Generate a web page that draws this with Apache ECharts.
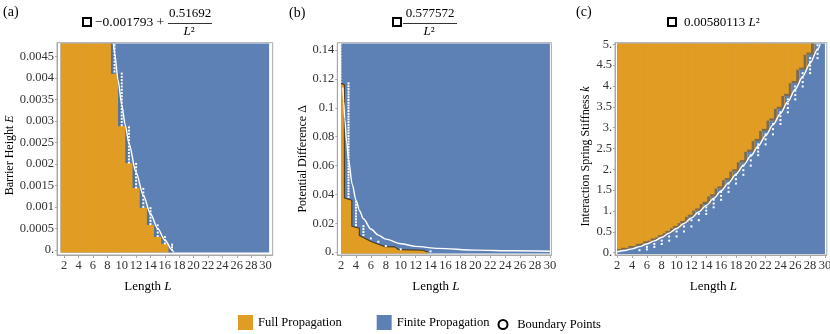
<!DOCTYPE html>
<html>
<head>
<meta charset="utf-8">
<script src="https://cdn.jsdelivr.net/npm/echarts@6/dist/echarts.min.js"></script>
<style>
html, body { margin: 0; padding: 0; background: #fff; }
#main { width: 830px; height: 334px; }
</style>
</head>
<body>
<div id="main"></div>
<script>
// ---------- data ----------
var xTicks = [2, 4, 6, 8, 10, 12, 14, 16, 18, 20, 22, 24, 26, 28, 30];

// (a) barrier height E
var aFillL = [1.5, 30.5];
var aFillE = [-0.00006, 0.0048];
var aLength  = [2, 3, 4, 5, 6, 7, 8, 9, 10, 11, 12, 13, 14, 15, 16];
var aFullTop = [0.0048, 0.0048, 0.0048, 0.0048, 0.0048, 0.0048, 0.0048, 0.0041, 0.00288, 0.00202, 0.00144, 0.00098, 0.00058, 0.0003, 0.00014];
var aDotLength = [9, 10, 11, 12, 13, 14, 15, 16, 17];
var aDotLow    = [0.00415, 0.0029, 0.00203, 0.00145, 0.001, 0.0006, 0.00032, 0.00015, 0.0];
var aDotHigh   = [0.00476, 0.0041, 0.00285, 0.002, 0.00142, 0.00097, 0.00057, 0.0003, 0.00012];
var aFitL = [8.85, 9, 9.5, 10, 10.5, 11, 12, 13, 14, 15, 16, 17, 17.2];
var aFitE = [0.0048, 0.00459, 0.00394, 0.00338, 0.0029, 0.00248, 0.0018, 0.00127, 0.00084, 0.0005, 0.00023, 0.0, -0.00005];
var aYTicks  = [0, 0.0005, 0.001, 0.0015, 0.002, 0.0025, 0.003, 0.0035, 0.004, 0.0045];
var aYLabels = ['0.', '0.0005', '0.001', '0.0015', '0.002', '0.0025', '0.003', '0.0035', '0.004', '0.0045'];

// (b) potential difference
var bFillL = [2, 30];
var bFillD = [-0.001, 0.1446];
var bEdgeL = [2, 2.45, 2.45, 3.45, 3.45, 4.45, 4.45, 6.1, 7.0, 7.9, 9.2, 9.7, 13.0, 13.6];
var bEdgeD = [0.117, 0.116, 0.0375, 0.036, 0.018, 0.0165, 0.0115, 0.0072, 0.0055, 0.0038, 0.0036, 0.0017, 0.0013, 0];
var bDotLength = [3, 4, 5, 6, 7, 8, 10, 14];
var bDotLow    = [0.0383, 0.0187, 0.0118, 0.0095, 0.0072, 0.0042, 0.0019, 0.0005];
var bDotHigh   = [0.117, 0.0349, 0.018, 0.0095, 0.0072, 0.0042, 0.0019, 0.0005];
var bFaintDot  = [[2, 0.118, 0.144]];
var bFitL = [2.25, 2.35, 2.5, 2.75, 3, 3.5, 4, 4.5, 5, 6, 7, 8, 10, 12, 15, 20, 25, 30];
var bFitD = [0.1141, 0.1046, 0.0924, 0.0764, 0.0642, 0.0471, 0.0361, 0.0285, 0.0231, 0.016, 0.0118, 0.009, 0.0058, 0.004, 0.0026, 0.0014, 0.0009, 0.0006];
var bYTicks  = [0, 0.02, 0.04, 0.06, 0.08, 0.1, 0.12, 0.14];
var bYLabels = ['0.', '0.02', '0.04', '0.06', '0.08', '0.1', '0.12', '0.14'];

// (c) interaction spring stiffness k
var cFillL = [2, 30];
var cFillK = [-0.03, 5.02];
var cLength   = [2, 3, 4, 5, 6, 7, 8, 9, 10, 11, 12, 13, 14, 15, 16, 17, 18, 19, 20, 21, 22, 23, 24, 25, 26, 27, 28];
var cFullFrom = [0.035, 0.065, 0.11, 0.16, 0.22, 0.29, 0.37, 0.47, 0.59, 0.71, 0.86, 1.01, 1.17, 1.35, 1.54, 1.74, 1.95, 2.17, 2.42, 2.68, 2.92, 3.17, 3.45, 3.76, 4.07, 4.39, 4.75];
var cDotLength = [5, 6, 7, 8, 9, 10, 11, 12, 13, 14, 15, 16, 17, 18, 19, 20, 21, 22, 23, 24, 25, 26, 27, 28, 29];
var cDotLow    = [0.06, 0.08, 0.14, 0.21, 0.29, 0.39, 0.51, 0.63, 0.78, 0.93, 1.09, 1.27, 1.46, 1.66, 1.87, 2.09, 2.34, 2.6, 2.84, 3.09, 3.37, 3.68, 3.99, 4.31, 4.67];
var cDotHigh   = [0.08, 0.14, 0.21, 0.29, 0.39, 0.51, 0.63, 0.78, 0.93, 1.09, 1.27, 1.46, 1.66, 1.87, 2.09, 2.34, 2.6, 2.84, 3.09, 3.37, 3.68, 3.99, 4.31, 4.67, 4.98];
var cFitL = [2, 3, 4, 5, 6, 7, 8, 9, 10, 11, 12, 13, 14, 15, 16, 17, 18, 19, 20, 21, 22, 23, 24, 25, 26, 27, 28, 29, 29.36];
var cFitK = [0.023, 0.052, 0.093, 0.145, 0.209, 0.284, 0.371, 0.47, 0.58, 0.702, 0.835, 0.98, 1.137, 1.305, 1.485, 1.677, 1.88, 2.094, 2.32, 2.558, 2.808, 3.069, 3.341, 3.626, 3.922, 4.229, 4.548, 4.879, 5.0];
var cYTicks  = [0, 0.5, 1, 1.5, 2, 2.5, 3, 3.5, 4, 4.5, 5];
var cYLabels = ['0.', '0.5', '1.', '1.5', '2.', '2.5', '3.', '3.5', '4.', '4.5', '5.'];

// ---------- styling ----------
var ORANGE = '#E19C24', BLUE = '#5E81B5';
var BLUE_DARK = '#53739f', EDGE_C = '#7a6b55';
var FRAME = '#a8a8a8', FONT = 'Liberation Serif';

var myChart = echarts.init(document.getElementById('main'));

function nearest(ticks, v) {
    var best = 0;
    for (var i = 1; i < ticks.length; i++) {
        if (Math.abs(ticks[i] - v) < Math.abs(ticks[best] - v)) best = i;
    }
    return best;
}

function rectBetween(api, x0, y0, x1, y1, fill, extra) {
    var a = api.coord([x0, y1]), b = api.coord([x1, y0]);
    return { type: 'rect', shape: { x: a[0], y: a[1], width: b[0] - a[0] + (extra || 0), height: b[1] - a[1] }, style: { fill: fill } };
}

function xAxisOf(gi, min, max, pad) {
    return {
        type: 'value', gridIndex: gi, min: min, max: max,
        name: 'Length {i|L}', nameLocation: 'middle', nameGap: 25,
        nameTextStyle: { fontFamily: FONT, fontSize: 13, color: '#000', padding: [0, pad, 0, 0],
            rich: { i: { fontFamily: FONT, fontSize: 13, fontStyle: 'italic', color: '#000' } } },
        axisLine: { show: true, onZero: false, lineStyle: { color: FRAME } },
        axisTick: { show: true, customValues: xTicks, length: 3, lineStyle: { color: FRAME } },
        axisLabel: { customValues: xTicks, margin: 4, fontFamily: FONT, fontSize: 12.5, color: '#333' },
        splitLine: { show: false }
    };
}

function yAxisOf(gi, min, max, ticks, labels, name, gap, shift) {
    return {
        type: 'value', gridIndex: gi, min: min, max: max,
        name: name, nameLocation: 'middle', nameGap: gap, nameRotate: 90,
        nameTextStyle: { fontFamily: FONT, fontSize: 12, color: '#000', padding: [0, shift, 0, 0],
            rich: { i: { fontFamily: FONT, fontSize: 12, fontStyle: 'italic', color: '#000' } } },
        axisLine: { show: true, onZero: false, lineStyle: { color: FRAME } },
        axisTick: { show: true, customValues: ticks, length: 2, lineStyle: { color: FRAME } },
        axisLabel: { customValues: ticks, margin: 3, fontFamily: FONT, fontSize: 12.5, color: '#333',
            formatter: function (v) { return labels[nearest(ticks, v)]; } },
        splitLine: { show: false }
    };
}

function bgSeries(gi, xr, yr) {
    return {
        type: 'custom', name: 'Finite Propagation', xAxisIndex: gi, yAxisIndex: gi, z: 1, silent: true,
        itemStyle: { color: BLUE },
        data: [[xr[0], yr[0], xr[1], yr[1]]],
        renderItem: function (params, api) {
            return rectBetween(api, api.value(0), api.value(1), api.value(2), api.value(3), BLUE);
        }
    };
}

function dotSeries(gi, data, step, color) {
    return {
        type: 'custom', name: 'Boundary Points', xAxisIndex: gi, yAxisIndex: gi, z: 6, silent: true,
        itemStyle: { color: '#fff' },
        data: data,
        renderItem: function (params, api) {
            var top = api.coord([api.value(0), api.value(2)]);
            var bot = api.coord([api.value(0), api.value(1)]);
            var n = Math.max(0, Math.round((bot[1] - top[1]) / step));
            var kids = [];
            for (var k = 0; k <= n; k++) {
                var y = n ? bot[1] - k * (bot[1] - top[1]) / n : bot[1];
                kids.push({ type: 'rect', shape: { x: bot[0] - 1, y: y - 1, width: 2, height: 2 }, style: { fill: color } });
            }
            return { type: 'group', children: kids };
        }
    };
}

function fitSeries(gi, xs, ys) {
    return {
        type: 'line', name: 'fit' + gi, xAxisIndex: gi, yAxisIndex: gi, z: 5, silent: true,
        showSymbol: false, smooth: 0.3, smoothMonotone: 'x',
        lineStyle: { color: '#fff', width: 1.4 },
        data: xs.map(function (x, i) { return [x, ys[i]]; })
    };
}

function zip3(a, b, c) { return a.map(function (x, i) { return [x, b[i], c[i]]; }); }

// dark strips next to the steps in (a)
var aStrip = aDotLength.map(function (L) {
    var i = aLength.indexOf(L), j = aLength.indexOf(L - 1);
    return [L, i >= 0 ? aFullTop[i] : aFillE[0], aFullTop[j]];
});

var option = {
    animation: false,
    grid: [
        { left: 57, top: 42.7, width: 215.7, height: 212.3, show: true, borderColor: FRAME, borderWidth: 1, containLabel: false, outerBoundsMode: 'none' },
        { left: 337.3, top: 42.7, width: 214.1, height: 212.3, show: true, borderColor: FRAME, borderWidth: 1, containLabel: false, outerBoundsMode: 'none' },
        { left: 615, top: 42.7, width: 211.8, height: 212.3, show: true, borderColor: FRAME, borderWidth: 1, containLabel: false, outerBoundsMode: 'none' }
    ],
    xAxis: [xAxisOf(0, 1.0, 31.0, 34), xAxisOf(1, 1.5, 30.2, 17), xAxisOf(2, 1.7, 30.25, 15)],
    yAxis: [
        yAxisOf(0, -0.00012, 0.00482, aYTicks, aYLabels, 'Barrier Height {i|E}', 41.5, 13),
        yAxisOf(1, -0.002, 0.1452, bYTicks, bYLabels, 'Potential Difference \u0394', 28.5, 20),
        yAxisOf(2, -0.055, 5.04, cYTicks, cYLabels, 'Interaction Spring Stiffness {i|k}', 23.5, 15)
    ],
    legend: [
        { left: 233, top: 310, itemWidth: 15, itemHeight: 15, itemGap: 35, icon: 'rect', selectedMode: false,
          textStyle: { fontFamily: FONT, fontSize: 12.5, color: '#000' },
          data: [{ name: 'Full Propagation', itemStyle: { color: ORANGE } },
                 { name: 'Finite Propagation', itemStyle: { color: BLUE } }] },
        { left: 492.5, top: 313, itemWidth: 18.5, itemHeight: 9, selectedMode: false,
          textStyle: { fontFamily: FONT, fontSize: 12.5, color: '#000' },
          data: [{ name: 'Boundary Points', icon: 'circle', itemStyle: { color: '#fff', borderColor: '#000', borderWidth: 2 } }] }
    ],
    graphic: [
        // panel letters
        { type: 'text', x: 3, y: 12, style: { text: '(a)', font: '14px "Liberation Serif"', fill: '#000', verticalAlign: 'middle' } },
        { type: 'text', x: 289, y: 13, style: { text: '(b)', font: '14px "Liberation Serif"', fill: '#000', verticalAlign: 'middle' } },
        { type: 'text', x: 576, y: 12, style: { text: '(c)', font: '14px "Liberation Serif"', fill: '#000', verticalAlign: 'middle' } },
        // (a) title
        { type: 'rect', shape: { x: 83, y: 18, width: 8, height: 8 }, style: { fill: '#fff', stroke: '#000', lineWidth: 2 } },
        { type: 'text', x: 95, y: 22.5, style: { text: '\u22120.001793 +', font: '13.5px "Liberation Serif"', fill: '#000', verticalAlign: 'middle' } },
        { type: 'text', x: 190, y: 14, style: { text: '0.51692', font: '13px "Liberation Serif"', fill: '#000', align: 'center', verticalAlign: 'middle' } },
        { type: 'line', shape: { x1: 168, y1: 23.5, x2: 212, y2: 23.5 }, style: { stroke: '#000', lineWidth: 0.8 } },
        { type: 'text', x: 189, y: 31.5, style: { text: '{i|L}\u00b2', font: '13px "Liberation Serif"', fill: '#000', align: 'center', verticalAlign: 'middle',
            rich: { i: { fontFamily: FONT, fontSize: 13, fontStyle: 'italic', fill: '#000' } } } },
        // (b) title
        { type: 'rect', shape: { x: 393, y: 18, width: 8, height: 8 }, style: { fill: '#fff', stroke: '#000', lineWidth: 2 } },
        { type: 'text', x: 430, y: 14, style: { text: '0.577572', font: '13px "Liberation Serif"', fill: '#000', align: 'center', verticalAlign: 'middle' } },
        { type: 'line', shape: { x1: 403, y1: 23.5, x2: 457, y2: 23.5 }, style: { stroke: '#000', lineWidth: 0.8 } },
        { type: 'text', x: 429, y: 31.5, style: { text: '{i|L}\u00b2', font: '13px "Liberation Serif"', fill: '#000', align: 'center', verticalAlign: 'middle',
            rich: { i: { fontFamily: FONT, fontSize: 13, fontStyle: 'italic', fill: '#000' } } } },
        // (c) title
        { type: 'rect', shape: { x: 668, y: 18, width: 8, height: 8 }, style: { fill: '#fff', stroke: '#000', lineWidth: 2 } },
        { type: 'text', x: 684, y: 23, style: { text: '0.00580113 {i|L}\u00b2', font: '13px "Liberation Serif"', fill: '#000', verticalAlign: 'middle',
            rich: { i: { fontFamily: FONT, fontSize: 13, fontStyle: 'italic', fill: '#000' } } } }
    ],
    series: [
        // ---- (a) ----
        bgSeries(0, aFillL, aFillE),
        {
            type: 'custom', name: 'Full Propagation', xAxisIndex: 0, yAxisIndex: 0, z: 2, silent: true,
            itemStyle: { color: ORANGE },
            data: aLength.map(function (L, i) { return [L, aFullTop[i]]; }),
            renderItem: function (params, api) {
                var L = api.value(0);
                return rectBetween(api, L - 0.5, aFillE[0], L + 0.5, api.value(1), ORANGE, 0.6);
            }
        },
        {
            type: 'custom', name: 'stripA', xAxisIndex: 0, yAxisIndex: 0, z: 3, silent: true,
            data: aStrip,
            renderItem: function (params, api) {
                var L = api.value(0);
                return rectBetween(api, L - 0.5, api.value(1), L, api.value(2), BLUE_DARK);
            }
        },
        fitSeries(0, aFitL, aFitE),
        dotSeries(0, zip3(aDotLength, aDotLow, aDotHigh), 3.3, '#fff'),

        // ---- (b) ----
        bgSeries(1, bFillL, bFillD),
        {
            type: 'custom', name: 'Full Propagation', xAxisIndex: 1, yAxisIndex: 1, z: 2, silent: true,
            itemStyle: { color: ORANGE },
            data: [[bEdgeL[0], bEdgeD[0]]],
            renderItem: function (params, api) {
                var pts = [api.coord([bEdgeL[0], bFillD[0]])];
                for (var i = 0; i < bEdgeL.length; i++) pts.push(api.coord([bEdgeL[i], bEdgeD[i]]));
                pts.push(api.coord([bEdgeL[bEdgeL.length - 1], bFillD[0]]));
                return { type: 'polygon', shape: { points: pts }, style: { fill: ORANGE } };
            }
        },
        {
            type: 'line', name: 'edgeB', xAxisIndex: 1, yAxisIndex: 1, z: 3, silent: true, showSymbol: false,
            lineStyle: { color: 'rgba(60,45,25,0.85)', width: 1.1 },
            data: bEdgeL.map(function (x, i) { return [x, bEdgeD[i]]; })
        },
        fitSeries(1, bFitL, bFitD),
        dotSeries(1, zip3(bDotLength, bDotLow, bDotHigh), 2.8, '#fff'),
        dotSeries(1, bFaintDot, 2.8, 'rgba(255,255,255,0.45)'),

        // ---- (c) ----
        bgSeries(2, cFillL, cFillK),
        {
            type: 'custom', name: 'Full Propagation', xAxisIndex: 2, yAxisIndex: 2, z: 2, silent: true,
            itemStyle: { color: ORANGE },
            data: cLength.map(function (L, i) {
                return [L, cFullFrom[i], i < cLength.length - 1 ? cFullFrom[i + 1] : cFillK[1]];
            }),
            renderItem: function (params, api) {
                var L = api.value(0), k = api.value(1), kNext = api.value(2);
                var x0 = Math.max(L - 0.5, cFillL[0]), x1 = Math.min(L + 0.5, cFillL[1]);
                var tl = api.coord([x0, cFillK[1]]), br = api.coord([x1, k]), rn = api.coord([x1, kNext]);
                return {
                    type: 'group', children: [
                        { type: 'rect', shape: { x: tl[0], y: tl[1], width: br[0] - tl[0] + 0.6, height: br[1] - tl[1] }, style: { fill: ORANGE } },
                        { type: 'rect', shape: { x: tl[0], y: br[1] - 2.2, width: br[0] - tl[0], height: 2.2 }, style: { fill: EDGE_C } },
                        { type: 'rect', shape: { x: br[0] - 2.8, y: rn[1], width: 2.8, height: br[1] - rn[1] }, style: { fill: EDGE_C } }
                    ]
                };
            }
        },
        fitSeries(2, cFitL, cFitK),
        dotSeries(2, zip3(cDotLength, cDotLow, cDotHigh), 4.2, '#fff')
    ]
};

option && myChart.setOption(option);
</script>
</body>
</html>
